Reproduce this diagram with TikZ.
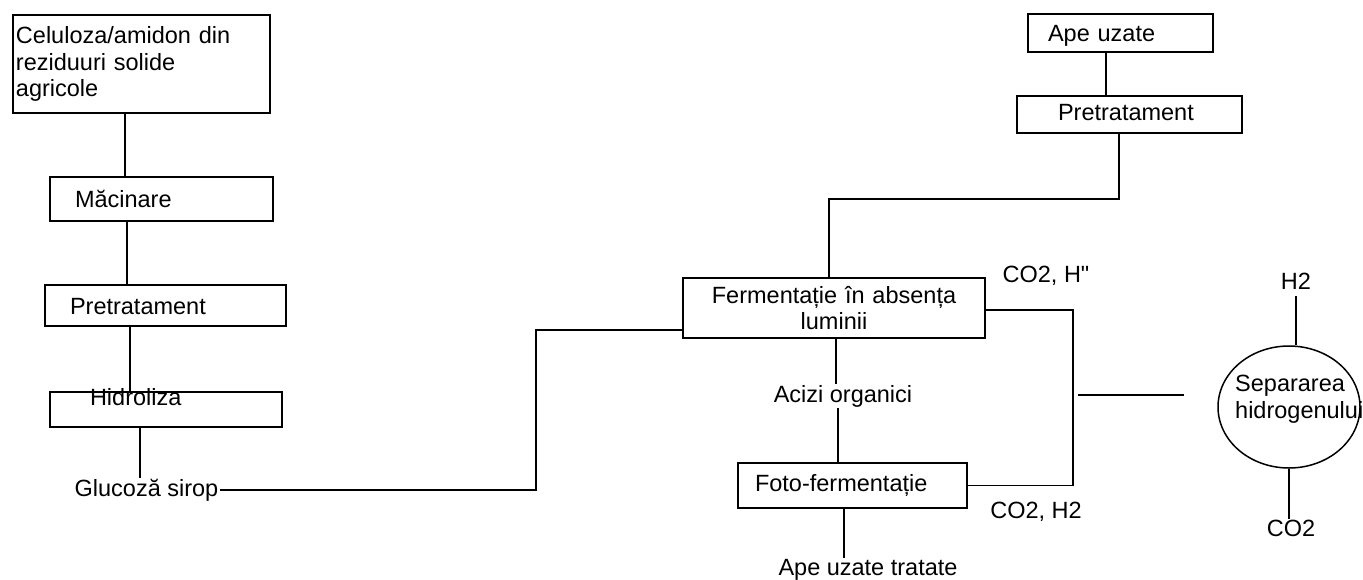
\documentclass[tikz,border=0pt]{standalone}
\usepackage{fontspec}
\setmainfont{Liberation Sans}
\usepackage{tikz}
\usetikzlibrary{shapes.geometric,positioning}
\newcommand{\diagfont}{\fontsize{23.5}{26.5}\selectfont}
\tikzset{
  box/.style={
    rectangle, draw=black, line width=1.5pt,
    font=\diagfont, align=left, inner ysep=2pt},
  oneline/.style={text height=17pt, text depth=#1},
  oneline/.default=0pt,
  txt/.style={font=\diagfont, inner sep=1pt},
  sepnode/.style={
    ellipse, draw=black, line width=1.5pt,
    minimum width=142pt, minimum height=122pt, inner sep=0pt},
  link/.style={line width=1.5pt, draw=black},
}
\begin{document}
\begin{tikzpicture}[x=1pt, y=-1pt]
  \useasboundingbox[fill=white] (0,0) rectangle (1363,579);
  % left branch
  \node[box, minimum width=257pt, minimum height=98pt, text width=251pt, inner xsep=3pt] (src) at (141.5,64) {Celuloza/amidon din\\reziduuri solide\\agricole};
  \node[box, oneline, minimum width=223pt, minimum height=44pt, text width=173pt, inner xsep=25pt] (mac) at (161.5,199) {Măcinare};
  \node[box, oneline, minimum width=241pt, minimum height=41pt, text width=191pt, inner xsep=25pt] (pre1) at (165.5,305.5) {Pretratament};
  \node[box, minimum width=232pt, minimum height=35pt, text width=152pt, inner xsep=40pt, inner ysep=0pt, text height=2pt, text depth=11pt] (hid) at (166,409.5) {Hidroliza};
  \node[txt] (glu) at (146.5,490) {Glucoză sirop};
  % right branch
  \node[box, oneline, minimum width=185pt, minimum height=38pt, text width=145pt, inner xsep=20pt] (ape) at (1120.5,33) {Ape uzate};
  \node[box, oneline=5pt, minimum width=225pt, minimum height=37pt, text width=143pt, inner xsep=41pt] (pre2) at (1129.5,114.5) {Pretratament};
  \node[box, align=center, minimum width=302pt, minimum height=60pt, text width=282pt, inner xsep=10pt] (ferm) at (834,308) {Fermentație în absența\\luminii};
  \node[txt] (acz) at (843,396) {Acizi organici};
  \node[box, oneline=5pt, minimum width=229pt, minimum height=45pt, text width=195pt, inner xsep=17pt] (foto) at (852.5,485.5) {Foto-fermentație};
  \node[txt] (trat) at (868,570) {Ape uzate tratate};
  \node[txt] (lblA) at (1046,276) {CO2, H\textquotedbl};
  \node[txt] (lblB) at (1036,512) {CO2, H2};
  % separation
  \node[sepnode] (sep) at (1289,407) {};
  \node[txt, align=left, anchor=west, inner sep=0pt] (septxt) at (1235,399) {Separarea\\hidrogenului};
  \node[txt] (hdoi) at (1296,281) {H2};
  \node[txt] (codoi) at (1291,528.5) {CO2};
  \coordinate (jL) at (536,330);
  \coordinate (jT) at (829,199);
  \coordinate (jR) at (1073,395);
  \coordinate (jS) at (1184,395);
  % connectors
  \draw[link] ([xshift=-16.5pt]src.south) -- ([xshift=-16.5pt]src.south |- mac.north);
  \draw[link] ([xshift=-34.5pt]mac.south) -- ([xshift=-34.5pt]mac.south |- pre1.north);
  \draw[link] ([xshift=-35.5pt]pre1.south) -- ([xshift=-35.5pt]pre1.south |- hid.north);
  \draw[link] ([xshift=-26pt]hid.south) -- ([xshift=-26pt]hid.south |- glu.north);
  \draw[link] (glu.east) -| (jL) -- (jL -| ferm.west);
  \draw[link] ([xshift=-14.5pt]ape.south) -- ([xshift=-14.5pt]ape.south |- pre2.north);
  \draw[link] ([xshift=-10.5pt]pre2.south) |- (jT) -- (jT |- ferm.north);
  \draw[link] ([xshift=2pt]ferm.south) -- ([xshift=2pt]ferm.south |- acz.north);
  \draw[link] ([xshift=4pt]ferm.south |- acz.south) -- ([xshift=4pt]ferm.south |- foto.north);
  \draw[link] ([xshift=-8.5pt]foto.south) -- ([xshift=-8.5pt]foto.south |- trat.north);
  \draw[link] ([yshift=-2pt]ferm.east) -| (jR) |- (foto.east);
  \draw[link] ([xshift=5pt]jR) -- (jS);
  \draw[link, shorten <=6pt] (hdoi.south) -- (hdoi.south |- sep.north);
  \draw[link] (sep.south) -- (sep.south |- codoi.north);
\end{tikzpicture}
\end{document}
